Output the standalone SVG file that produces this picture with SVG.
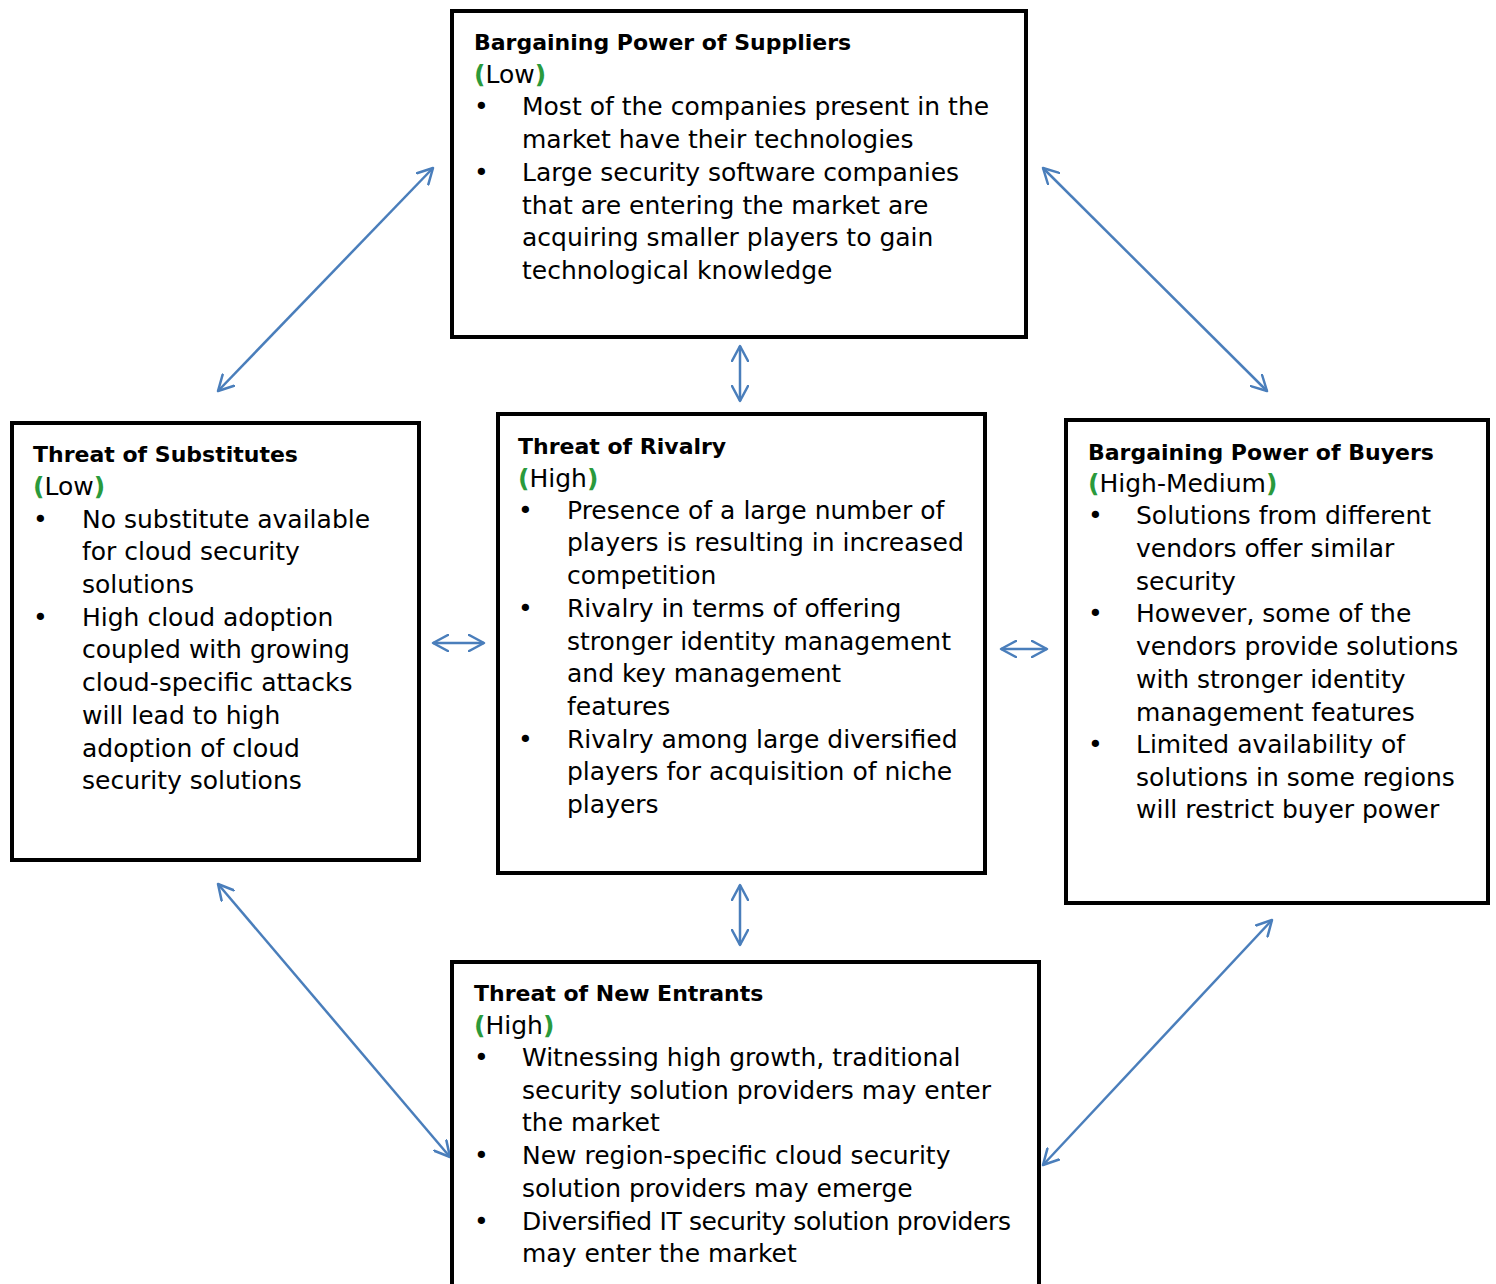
<svg xmlns="http://www.w3.org/2000/svg" width="1496" height="1284" viewBox="0 0 1496 1284">
<style>
.box{fill:#fff;stroke:#000;stroke-width:4}
.t{font-family:"DejaVu Sans",sans-serif;font-size:25px;fill:#000}
.b{font-weight:bold;font-size:22px}
.g{fill:#2a9a3c;font-weight:bold}
.c{stroke:#4a7ebb;stroke-width:2.5;fill:none;marker-start:url(#ah);marker-end:url(#ah)}
</style>
<defs>
<marker id="ah" viewBox="-16 -9 18 18" markerWidth="18" markerHeight="18" refX="0" refY="0" orient="auto-start-reverse" markerUnits="userSpaceOnUse">
<path d="M-15,-8 L0,0 L-15,8" fill="none" stroke="#4a7ebb" stroke-width="2.5" stroke-linecap="round" stroke-linejoin="round"/>
</marker>
</defs>
<rect width="1496" height="1284" fill="#fff"/>
<g id="connectors">
<line class="c" x1="218" y1="391" x2="433" y2="168"/>
<line class="c" x1="740" y1="346" x2="740" y2="401"/>
<line class="c" x1="1043" y1="168" x2="1267" y2="391"/>
<line class="c" x1="433" y1="643" x2="484" y2="643"/>
<line class="c" x1="1001" y1="649" x2="1047" y2="649"/>
<line class="c" x1="740" y1="885" x2="740" y2="945"/>
<line class="c" x1="218" y1="884" x2="450" y2="1157"/>
<line class="c" x1="1272" y1="920" x2="1043" y2="1165"/>
</g>
<g id="suppliers">
<rect class="box" x="452" y="11" width="574" height="326"/>
<text class="t"><tspan class="b" x="474" y="50">Bargaining Power of Suppliers</tspan>
<tspan x="474" y="83"><tspan class="g">(</tspan>Low<tspan class="g">)</tspan></tspan>
<tspan x="474" y="115">•</tspan><tspan x="522" y="115">Most of the companies present in the</tspan>
<tspan x="522" y="148">market have their technologies</tspan>
<tspan x="474" y="181">•</tspan><tspan x="522" y="181">Large security software companies</tspan>
<tspan x="522" y="214">that are entering the market are</tspan>
<tspan x="522" y="246">acquiring smaller players to gain</tspan>
<tspan x="522" y="279">technological knowledge</tspan></text>
</g>
<g id="substitutes">
<rect class="box" x="12" y="423" width="407" height="437"/>
<text class="t"><tspan class="b" x="33" y="462">Threat of Substitutes</tspan>
<tspan x="33" y="495"><tspan class="g">(</tspan>Low<tspan class="g">)</tspan></tspan>
<tspan x="33" y="528">•</tspan><tspan x="82" y="528">No substitute available</tspan>
<tspan x="82" y="560">for cloud security</tspan>
<tspan x="82" y="593">solutions</tspan>
<tspan x="33" y="626">•</tspan><tspan x="82" y="626">High cloud adoption</tspan>
<tspan x="82" y="658">coupled with growing</tspan>
<tspan x="82" y="691">cloud-specific attacks</tspan>
<tspan x="82" y="724">will lead to high</tspan>
<tspan x="82" y="757">adoption of cloud</tspan>
<tspan x="82" y="789">security solutions</tspan></text>
</g>
<g id="rivalry">
<rect class="box" x="498" y="414" width="487" height="459"/>
<text class="t"><tspan class="b" x="518" y="454">Threat of Rivalry</tspan>
<tspan x="518" y="487"><tspan class="g">(</tspan>High<tspan class="g">)</tspan></tspan>
<tspan x="518" y="519">•</tspan><tspan x="567" y="519">Presence of a large number of</tspan>
<tspan x="567" y="551">players is resulting in increased</tspan>
<tspan x="567" y="584">competition</tspan>
<tspan x="518" y="617">•</tspan><tspan x="567" y="617">Rivalry in terms of offering</tspan>
<tspan x="567" y="650">stronger identity management</tspan>
<tspan x="567" y="682">and key management</tspan>
<tspan x="567" y="715">features</tspan>
<tspan x="518" y="748">•</tspan><tspan x="567" y="748">Rivalry among large diversified</tspan>
<tspan x="567" y="780">players for acquisition of niche</tspan>
<tspan x="567" y="813">players</tspan></text>
</g>
<g id="buyers">
<rect class="box" x="1066" y="420" width="422" height="483"/>
<text class="t"><tspan class="b" x="1088" y="460">Bargaining Power of Buyers</tspan>
<tspan x="1088" y="492"><tspan class="g">(</tspan>High-Medium<tspan class="g">)</tspan></tspan>
<tspan x="1088" y="524">•</tspan><tspan x="1136" y="524">Solutions from different</tspan>
<tspan x="1136" y="557">vendors offer similar</tspan>
<tspan x="1136" y="590">security</tspan>
<tspan x="1088" y="622">•</tspan><tspan x="1136" y="622">However, some of the</tspan>
<tspan x="1136" y="655">vendors provide solutions</tspan>
<tspan x="1136" y="688">with stronger identity</tspan>
<tspan x="1136" y="721">management features</tspan>
<tspan x="1088" y="753">•</tspan><tspan x="1136" y="753">Limited availability of</tspan>
<tspan x="1136" y="786">solutions in some regions</tspan>
<tspan x="1136" y="818">will restrict buyer power</tspan></text>
</g>
<g id="entrants">
<rect class="box" x="452" y="962" width="587" height="340"/>
<text class="t"><tspan class="b" x="474" y="1001">Threat of New Entrants</tspan>
<tspan x="474" y="1034"><tspan class="g">(</tspan>High<tspan class="g">)</tspan></tspan>
<tspan x="474" y="1066">•</tspan><tspan x="522" y="1066">Witnessing high growth, traditional</tspan>
<tspan x="522" y="1099">security solution providers may enter</tspan>
<tspan x="522" y="1131">the market</tspan>
<tspan x="474" y="1164">•</tspan><tspan x="522" y="1164">New region-specific cloud security</tspan>
<tspan x="522" y="1197">solution providers may emerge</tspan>
<tspan x="474" y="1230">•</tspan></text>
<text class="t" x="522" y="1230" textLength="489" lengthAdjust="spacing">Diversified IT security solution providers</text>
<text class="t" x="522" y="1262">may enter the market</text>
</g>
</svg>
